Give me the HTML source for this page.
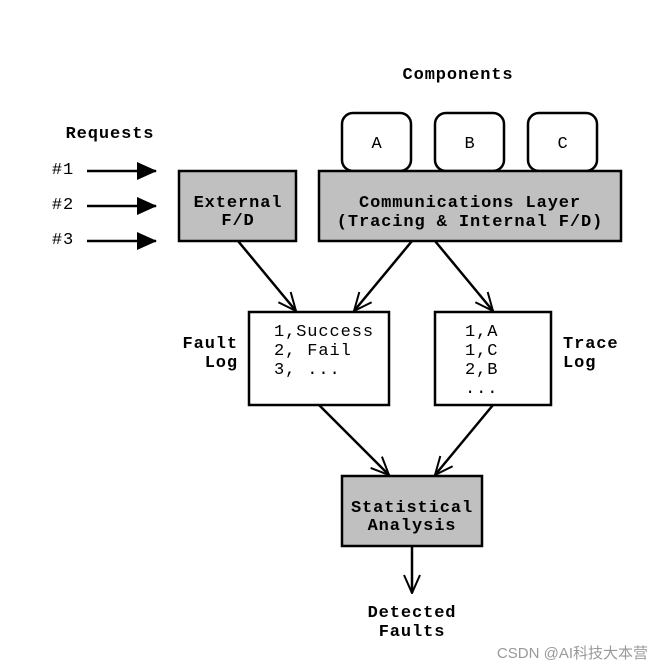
<!DOCTYPE html>
<html><head><meta charset="utf-8"><style>
html,body{margin:0;padding:0;background:#fff;}
svg{display:block;}
text{font-family:"Liberation Mono","DejaVu Sans Mono",monospace;font-size:17px;letter-spacing:0.9px;fill:#000;}
.b{font-weight:bold;}
</style></head><body>
<svg width="662" height="670" viewBox="0 0 662 670" xmlns="http://www.w3.org/2000/svg">
<defs>
<marker id="v" viewBox="0 0 20 20" refX="19" refY="10" markerWidth="20" markerHeight="20" markerUnits="userSpaceOnUse" orient="auto">
<path d="M1,2 L19,10 L1,18" fill="none" stroke="#000" stroke-width="2"/>
</marker>
<marker id="t" viewBox="0 0 20 20" refX="19" refY="10" markerWidth="20" markerHeight="20" markerUnits="userSpaceOnUse" orient="auto">
<path d="M0,1 L20,10 L0,19 Z" fill="#000"/>
</marker>
</defs>
<g stroke="#000" stroke-width="2.5" fill="none">
<rect x="342" y="113" width="69" height="58" rx="11" fill="#fff"/>
<rect x="435" y="113" width="69" height="58" rx="11" fill="#fff"/>
<rect x="528" y="113" width="69" height="58" rx="11" fill="#fff"/>
<rect x="179" y="171" width="117" height="70" fill="#c0c0c0"/>
<rect x="319" y="171" width="302" height="70" fill="#c0c0c0"/>
<rect x="249" y="312" width="140" height="93" fill="#fff"/>
<rect x="435" y="312" width="116" height="93" fill="#fff"/>
<rect x="342" y="476" width="140" height="70" fill="#c0c0c0"/>
</g>
<g stroke="#000" stroke-width="2.5">
<line x1="87" y1="171" x2="156" y2="171" marker-end="url(#t)"/>
<line x1="87" y1="206" x2="156" y2="206" marker-end="url(#t)"/>
<line x1="87" y1="241" x2="156" y2="241" marker-end="url(#t)"/>
<line x1="238" y1="241" x2="296" y2="311" marker-end="url(#v)"/>
<line x1="412" y1="241" x2="354" y2="311" marker-end="url(#v)"/>
<line x1="435" y1="241" x2="493" y2="311" marker-end="url(#v)"/>
<line x1="319" y1="405" x2="389" y2="475" marker-end="url(#v)"/>
<line x1="493" y1="405" x2="435" y2="475" marker-end="url(#v)"/>
<line x1="412" y1="546" x2="412" y2="593" marker-end="url(#v)"/>
</g>
<text class="b" x="458" y="79" text-anchor="middle">Components</text>
<text class="b" x="110" y="138" text-anchor="middle">Requests</text>
<text x="63" y="174" text-anchor="middle">#1</text>
<text x="63" y="209" text-anchor="middle">#2</text>
<text x="63" y="244" text-anchor="middle">#3</text>
<text x="377" y="148" text-anchor="middle">A</text>
<text x="470" y="148" text-anchor="middle">B</text>
<text x="563" y="148" text-anchor="middle">C</text>
<text class="b" x="238" y="207" text-anchor="middle">External</text>
<text class="b" x="238" y="225" text-anchor="middle">F/D</text>
<text class="b" x="470" y="207" text-anchor="middle">Communications Layer</text>
<text class="b" x="470" y="226" text-anchor="middle">(Tracing &amp; Internal F/D)</text>
<text class="b" x="238" y="348" text-anchor="end">Fault</text>
<text class="b" x="238" y="367" text-anchor="end">Log</text>
<text x="274" y="336">1,Success</text>
<text x="274" y="355">2, Fail</text>
<text x="274" y="374">3, ...</text>
<text x="465" y="336">1,A</text>
<text x="465" y="355">1,C</text>
<text x="465" y="374">2,B</text>
<text x="465" y="393">...</text>
<text class="b" x="563" y="348">Trace</text>
<text class="b" x="563" y="367">Log</text>
<text class="b" x="412" y="512" text-anchor="middle">Statistical</text>
<text class="b" x="412" y="530" text-anchor="middle">Analysis</text>
<text class="b" x="412" y="617" text-anchor="middle">Detected</text>
<text class="b" x="412" y="636" text-anchor="middle">Faults</text>
<text x="648" y="658" text-anchor="end" style="font-family:'Liberation Sans','Noto Sans CJK SC',sans-serif;font-size:15px;letter-spacing:0;fill:#999">CSDN @AI科技大本营</text>
</svg>
</body></html>
